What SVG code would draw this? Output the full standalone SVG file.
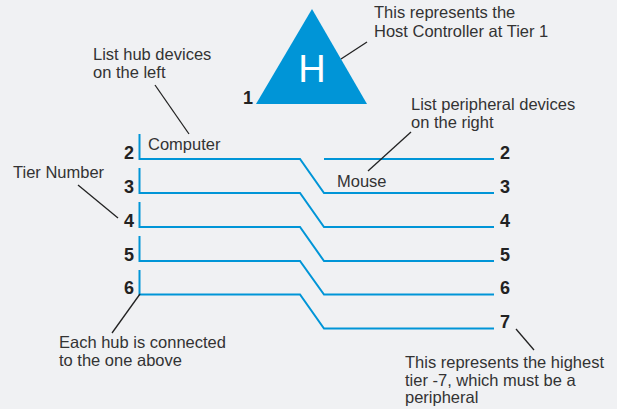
<svg xmlns="http://www.w3.org/2000/svg" width="617" height="409" viewBox="0 0 617 409">
  <style>
    .label { font-family: "Liberation Sans", Arial, sans-serif; font-size: 16.5px; fill: #333333; }
    .tier { font-family: "Liberation Sans", Arial, sans-serif; font-size: 18px; font-weight: bold; fill: #222222; }
    .wire { fill: none; stroke: #0095d7; stroke-width: 2; stroke-linejoin: miter; }
    .leader { fill: none; stroke: #222222; stroke-width: 1.3; }
  </style>
  <rect width="617" height="409" fill="#f0f1f3"/>

  <!-- Host controller (tier 1) -->
  <g id="host">
    <polygon points="312,9 256,104 367,104" fill="#0095d7"/>
    <text x="312" y="82" text-anchor="middle" font-family="'Liberation Sans', Arial, sans-serif" font-size="38" fill="#ffffff">H</text>
    <text class="tier" x="243" y="104">1</text>
  </g>

  <!-- Tier numbers, hub side -->
  <g id="hub-tiers">
    <text class="tier" x="134" y="159" text-anchor="end">2</text>
    <text class="tier" x="134" y="193" text-anchor="end">3</text>
    <text class="tier" x="134" y="227" text-anchor="end">4</text>
    <text class="tier" x="134" y="261" text-anchor="end">5</text>
    <text class="tier" x="134" y="294" text-anchor="end">6</text>
  </g>

  <!-- Tier numbers, peripheral side -->
  <g id="peripheral-tiers">
    <text class="tier" x="500" y="159">2</text>
    <text class="tier" x="500" y="193">3</text>
    <text class="tier" x="500" y="227">4</text>
    <text class="tier" x="500" y="261">5</text>
    <text class="tier" x="500" y="294">6</text>
    <text class="tier" x="500" y="328">7</text>
  </g>

  <!-- Device labels -->
  <g id="computer">
    <text class="label" x="148" y="150">Computer</text>
  </g>
  <g id="mouse">
    <text class="label" x="337" y="187">Mouse</text>
  </g>

  <!-- Tier connections -->
  <g id="connectors">
    <path class="wire" d="M139.5,134 V159 H300 L324,193 H494"/>
    <path class="wire" d="M139.5,168 V193 H300 L324,227 H494"/>
    <path class="wire" d="M139.5,202 V227 H300 L324,261 H494"/>
    <path class="wire" d="M139.5,236 V261 H300 L324,294.5 H494"/>
    <path class="wire" d="M139.5,270 V294.5 H300 L324,328.5 H494"/>
    <path class="wire" d="M324,159 H494"/>
  </g>

  <!-- Annotations -->
  <g id="note-host">
    <text class="label" x="374" y="18">This represents the</text>
    <text class="label" x="374" y="37">Host Controller at Tier 1</text>
    <line class="leader" x1="367" y1="42" x2="341" y2="59"/>
  </g>
  <g id="note-hubs">
    <text class="label" x="93" y="60">List hub devices</text>
    <text class="label" x="93" y="78">on the left</text>
    <line class="leader" x1="155" y1="85" x2="189" y2="134"/>
  </g>
  <g id="note-peripherals">
    <text class="label" x="411" y="110">List peripheral devices</text>
    <text class="label" x="411" y="127.5">on the right</text>
    <line class="leader" x1="411" y1="132" x2="368" y2="171"/>
  </g>
  <g id="note-tier-number">
    <text class="label" x="13" y="178">Tier Number</text>
    <line class="leader" x1="78" y1="185" x2="118" y2="218"/>
  </g>
  <g id="note-each-hub">
    <text class="label" x="59" y="348">Each hub is connected</text>
    <text class="label" x="59" y="366">to the one above</text>
    <line class="leader" x1="140" y1="294" x2="112" y2="333"/>
  </g>
  <g id="note-highest">
    <text class="label" x="405" y="368">This represents the highest</text>
    <text class="label" x="405" y="386">tier -7, which must be a</text>
    <text class="label" x="405" y="403">peripheral</text>
    <line class="leader" x1="516" y1="329" x2="534" y2="350"/>
  </g>
</svg>
